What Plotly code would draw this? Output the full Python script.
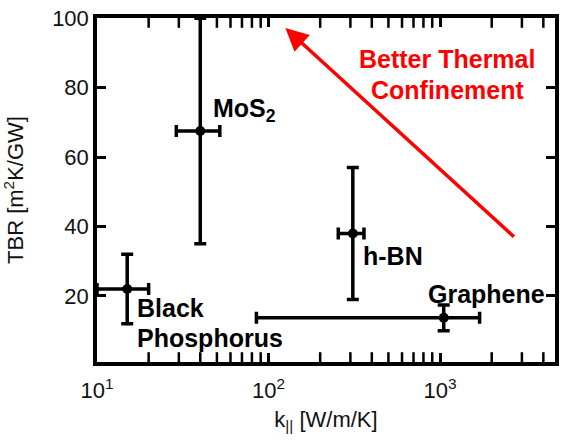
import plotly.graph_objects as go

materials = ["Black Phosphorus", "MoS2", "h-BN", "Graphene"]
k_par = [15, 40, 310, 1050]
k_err_plus = [5, 12, 50, 650]
k_err_minus = [5, 11, 55, 965]
tbr = [22, 67.5, 38, 13.7]
tbr_err_plus = [10, 32.5, 19, 3.7]
tbr_err_minus = [10, 32.5, 19, 3.7]

x_tickvals = [10, 100, 1000]
x_ticktext = ["10<sup>1</sup>", "10<sup>2</sup>", "10<sup>3</sup>"]
x_minor = [20, 30, 40, 50, 60, 70, 80, 90, 200, 300, 400, 500, 600, 700, 800, 900, 2000, 3000, 4000]
y_tickvals = [20, 40, 60, 80, 100]
y_range = [0.98, 100.05]

FONT = "Liberation Sans, Arial, sans-serif"

# page-pixel -> data helpers (plot area spans x 97..559, y 15..362 on the page)
def px_x(px):
    return 1 + (px - 97) / 173.0

def px_y(py):
    return 100 - (py - 15) / 3.505

fig = go.Figure()

# minor log ticks drawn as half-clipped vertical line markers on bottom and top edges
fig.add_trace(go.Scatter(
    x=x_minor + x_minor, y=[y_range[0]] * len(x_minor) + [y_range[1]] * len(x_minor),
    mode="markers", hoverinfo="skip", showlegend=False, cliponaxis=True,
    marker=dict(symbol="line-ns", size=14, color="black", line=dict(color="black", width=2.5)),
))

fig.add_trace(go.Scatter(
    x=k_par, y=tbr, mode="markers",
    marker=dict(color="black", size=10),
    error_x=dict(type="data", symmetric=False, array=k_err_plus, arrayminus=k_err_minus,
                 color="black", thickness=3.5, width=6),
    error_y=dict(type="data", symmetric=False, array=tbr_err_plus, arrayminus=tbr_err_minus,
                 color="black", thickness=3.5, width=6),
    cliponaxis=True, showlegend=False,
))

labels = [
    ("MoS<sub>2</sub>", 212, 108, "left"),
    ("Black", 135, 308, "left"),
    ("Phosphorus", 135, 338, "left"),
    ("h-BN", 363, 255, "left"),
    ("Graphene", 551, 293, "right"),
]
for txt, x, y, anc in labels:
    fig.add_annotation(x=px_x(x), y=px_y(y), text=txt, showarrow=False, xanchor=anc,
                       yanchor="middle",
                       font=dict(family=FONT, size=25, color="black", weight="bold"))

fig.add_annotation(x=px_x(287), y=px_y(25), ax=px_x(519), ay=px_y(237),
                   axref="x", ayref="y", xref="x", yref="y", text="",
                   showarrow=True, arrowhead=2, arrowsize=1.3, arrowwidth=3.5,
                   arrowcolor="red")
for txt, y in [("Better Thermal", 56), ("Confinement", 87)]:
    fig.add_annotation(x=px_x(450), y=px_y(y), text=txt, showarrow=False,
                       font=dict(family=FONT, size=25, color="red", weight="bold"))

axis_common = dict(showline=True, linecolor="black", linewidth=3.5, mirror="ticks",
                   ticks="inside", tickcolor="black", tickwidth=2.5, ticklen=9,
                   showgrid=False, zeroline=False, ticklabeloverflow="allow",
                   tickfont=dict(family=FONT, size=22, color="#111"))

fig.update_xaxes(type="log", range=[1, 3.67], tickvals=x_tickvals, ticktext=x_ticktext,
                 ticklabelstandoff=6,
                 title=dict(text="k<sub>||</sub> [W/m/K]", font=dict(family=FONT, size=22, color="#111"),
                            standoff=10),
                 **axis_common)
fig.update_yaxes(range=y_range, tickvals=y_tickvals,
                 title=dict(text="TBR [m<sup>2</sup>K/GW]", font=dict(family=FONT, size=22, color="#111"),
                            standoff=23),
                 **axis_common)

fig.update_layout(width=565, height=443, plot_bgcolor="white", paper_bgcolor="white",
                  margin=dict(l=97, r=6, t=15, b=81))

fig.write_html("out.html", config={"displayModeBar": False},
               post_script="document.body.style.margin='0px';")
